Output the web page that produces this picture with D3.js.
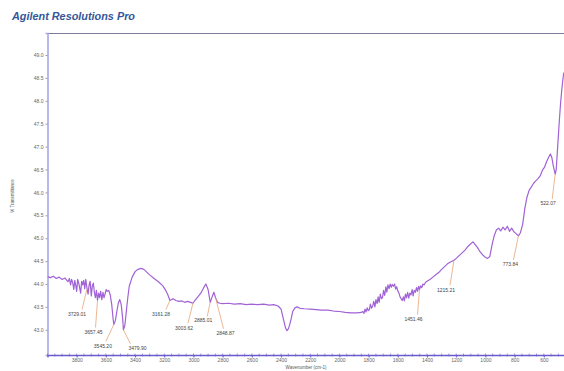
<!DOCTYPE html>
<html>
<head>
<meta charset="utf-8">
<script src="https://cdn.jsdelivr.net/npm/d3@7"></script>
<style>
  html, body { margin: 0; padding: 0; background: #fff; }
  svg { display: block; }
  text { font-family: "Liberation Sans", Arial, sans-serif; }
</style>
</head>
<body>
<svg id="chart" width="564" height="371"></svg>
<script>
// IR spectrum: wavenumber (cm-1) and % transmittance
const wavenumber = [
  4000, 3980, 3960, 3940, 3920, 3900, 3880, 3860, 3850, 3842, 3835, 3828, 3820, 3813, 3806, 3800,
  3793, 3786, 3780, 3773, 3766, 3759, 3752, 3745, 3738, 3729.01, 3722, 3715, 3708, 3700, 3693, 3686,
  3679, 3672, 3665, 3657.45, 3650, 3643, 3636, 3628, 3620, 3613, 3606, 3598, 3590, 3580, 3570, 3560,
  3550, 3545.20, 3535, 3525, 3515, 3505, 3495, 3485,
  3479.90, 3470, 3460, 3450, 3440, 3420, 3400, 3380, 3360, 3340, 3320, 3300, 3270, 3240, 3210,
  3190, 3175, 3161.28, 3140, 3120, 3100, 3080, 3060, 3040, 3020, 3003.62, 2990, 2970, 2950, 2930,
  2915, 2900, 2885.01, 2870, 2860, 2848.87, 2835, 2820, 2800, 2760, 2720, 2680, 2640, 2600, 2560,
  2520, 2480, 2450, 2420, 2400, 2385, 2370, 2360, 2350, 2340, 2330, 2320, 2305, 2290, 2270, 2240,
  2200, 2160, 2120, 2080, 2040, 2000, 1960, 1920, 1880, 1850,
  1840, 1832, 1825, 1818, 1810, 1803, 1795, 1788, 1780, 1772, 1765, 1757, 1750, 1742, 1735, 1728,
  1720, 1712, 1705, 1698, 1690, 1682, 1675, 1668, 1660, 1652, 1645, 1638, 1630, 1622, 1615, 1608,
  1600, 1592, 1585, 1578, 1570, 1562, 1555, 1548, 1540, 1533, 1525, 1518, 1510, 1502, 1495, 1488,
  1480, 1472, 1465, 1458, 1451.46, 1444, 1436, 1428, 1420, 1410,
  1400, 1380, 1360, 1340, 1320, 1300, 1280, 1260, 1240, 1215.21,
  1200, 1180, 1160, 1140, 1120, 1100, 1085, 1070, 1055, 1040, 1020, 1000, 985, 970, 955, 940, 925,
  910, 895, 880, 865, 850, 835, 820, 805, 790, 773.84, 760, 745, 730, 715, 700, 685, 670, 655, 640,
  625, 610, 595, 580, 565, 555, 545, 535, 522.07, 515, 505, 495, 485, 475, 465, 455, 445
];
const transmittance = [
  44.16, 44.14, 44.17, 44.12, 44.15, 44.10, 44.13, 44.05, 44.12, 43.98, 44.10, 44.04, 43.88, 44.08, 43.96, 43.84,
  44.10, 44.02, 43.92, 43.80, 44.06, 43.98, 44.08, 43.90, 44.10, 43.90, 43.78, 43.98, 44.06, 43.74, 43.96, 44.02,
  43.82, 43.70, 43.86, 43.64, 43.80, 43.70, 43.84, 43.66, 43.82, 43.70, 43.78, 43.88, 43.84, 43.86, 43.76, 43.55,
  43.22, 43.12, 43.20, 43.40, 43.58, 43.66, 43.55, 43.25,
  43.00, 43.10, 43.40, 43.70, 43.95, 44.15, 44.27, 44.32, 44.34, 44.32, 44.26, 44.20, 44.12, 44.05, 43.96,
  43.86, 43.76, 43.64, 43.68, 43.64, 43.62, 43.63, 43.60, 43.62, 43.60, 43.58, 43.64, 43.72, 43.80, 43.92,
  44.00, 43.88, 43.60, 43.74, 43.82, 43.70, 43.60, 43.58, 43.57, 43.58, 43.56, 43.57, 43.55, 43.56, 43.55,
  43.56, 43.54, 43.55, 43.52, 43.45, 43.25, 43.05, 42.98, 43.02, 43.12, 43.25, 43.40, 43.48, 43.50, 43.47, 43.46,
  43.45, 43.44, 43.43, 43.43, 43.41, 43.40, 43.38, 43.37, 43.37, 43.38,
  43.40, 43.36, 43.45, 43.39, 43.48, 43.42, 43.44, 43.56, 43.47, 43.52, 43.62, 43.50, 43.66, 43.57, 43.72, 43.60,
  43.78, 43.68, 43.70, 43.86, 43.75, 43.94, 43.82, 43.98, 43.90, 44.00, 43.93, 43.99, 43.95, 44.00, 43.89, 43.94,
  43.85, 43.80, 43.72, 43.68, 43.64, 43.72, 43.63, 43.78, 43.70, 43.82, 43.69, 43.80, 43.76, 43.88, 43.74, 43.86,
  43.82, 43.92, 43.84, 43.95, 43.88, 43.96, 43.92, 44.00, 43.98, 44.04,
  44.06, 44.10, 44.15, 44.20, 44.25, 44.32, 44.38, 44.44, 44.48, 44.52,
  44.56, 44.62, 44.68, 44.74, 44.82, 44.88, 44.92, 44.86, 44.80, 44.72, 44.64, 44.58, 44.56, 44.60, 44.85, 45.05, 45.18,
  45.22, 45.16, 45.24, 45.18, 45.26, 45.15, 45.22, 45.14, 45.10, 45.05, 45.12, 45.30, 45.65, 45.90, 46.05, 46.12, 46.20, 46.25, 46.30,
  46.36, 46.48, 46.55, 46.68, 46.78, 46.84, 46.76, 46.58, 46.40, 46.50, 47.00, 47.50, 47.95, 48.30, 48.58, 48.66, 48.70
];

// Peak-picked wavenumbers shown as annotations
const peakWavenumbers = [3729.01, 3657.45, 3545.20, 3479.90, 3161.28, 3003.62, 2885.01, 2848.87, 1451.46, 1215.21, 773.84, 522.07];

// Axis ticks
const xTicks = [3800, 3600, 3400, 3200, 3000, 2800, 2600, 2400, 2200, 2000, 1800, 1600, 1400, 1200, 1000, 800, 600];
const yTicks = [43.0, 43.5, 44.0, 44.5, 45.0, 45.5, 46.0, 46.5, 47.0, 47.5, 48.0, 48.5, 49.0];

// Annotation layout: label centre and leader start, offset from the peak point (px)
const labelOffsets = [[-10, 26], [-4, 32], [-11, 22], [14, 19], [-9, 14], [-9, 25], [-7, 18], [10, 36], [-6, 30], [-8, 30], [-8, 29], [-7, 30]];
const leaderOffsets = [[-5, 21], [-2, 27], [-8, 17], [7, 14], [-4, 9], [-5, 20], [-3, 14], [8, 31], [-2, 25], [-4, 25], [-5, 24], [-3, 25]];

const svg = d3.select("#chart");
const plotLeft = 47.5, plotTop = 33, plotBottom = 355;

const x = d3.scaleLinear().domain([4000, 400]).range([plotLeft, 573]);
const y = d3.scaleLinear().domain([42.45, 49.48]).range([plotBottom, plotTop]);

// Title
svg.append("text")
  .attr("x", 12).attr("y", 20)
  .attr("font-size", 11).attr("font-weight", "bold").attr("font-style", "italic")
  .attr("fill", "#34569a")
  .attr("textLength", 123).attr("lengthAdjust", "spacingAndGlyphs")
  .text("Agilent Resolutions Pro");

// Top border of the plot frame
svg.append("line")
  .attr("x1", plotLeft).attr("x2", 564).attr("y1", plotTop + 0.5).attr("y2", plotTop + 0.5)
  .attr("stroke", "#7c7c98").attr("stroke-width", 1);

// Y axis
const yAxis = d3.axisLeft(y).tickValues(yTicks).tickFormat(d3.format(".1f")).tickSize(2).tickPadding(2);
const gy = svg.append("g").attr("transform", `translate(${plotLeft},0)`).call(yAxis);
gy.select(".domain").attr("stroke", "#a9a6e6").attr("stroke-width", 1.6);
gy.selectAll(".tick line").attr("stroke", "#9a9ab8");
gy.selectAll(".tick text").attr("font-size", 5).attr("fill", "#666").attr("font-family", "Liberation Sans, Arial, sans-serif");

// X axis with dense minor ticks
const minor = d3.range(4000, 399, -50);
const gxm = svg.append("g").attr("transform", `translate(0,${plotBottom})`);
gxm.selectAll("line").data(minor).join("line")
  .attr("x1", d => x(d)).attr("x2", d => x(d)).attr("y1", -1.5).attr("y2", 1.5)
  .attr("stroke", "#8a7ad8").attr("stroke-width", 0.8);

const xAxis = d3.axisBottom(x).tickValues(xTicks).tickFormat(d3.format("d")).tickSize(2.5).tickPadding(1);
const gx = svg.append("g").attr("transform", `translate(0,${plotBottom})`).call(xAxis);
gx.select(".domain").attr("stroke", "#6a5ccc").attr("stroke-width", 1.3);
gx.selectAll(".tick line").attr("stroke", "#6a5ccc");
gx.selectAll(".tick text").attr("font-size", 5).attr("fill", "#666").attr("font-family", "Liberation Sans, Arial, sans-serif");

// Axis titles
svg.append("text")
  .attr("transform", "translate(14,196) rotate(-90)")
  .attr("text-anchor", "middle").attr("font-size", 4.5).attr("fill", "#555")
  .text("% Transmittance");
svg.append("text")
  .attr("x", 306).attr("y", 369)
  .attr("text-anchor", "middle").attr("font-size", 4.5).attr("fill", "#555")
  .text("Wavenumber (cm-1)");

// Spectrum
svg.append("clipPath").attr("id", "plot-clip")
  .append("rect").attr("x", plotLeft).attr("y", plotTop).attr("width", 564 - plotLeft).attr("height", plotBottom - plotTop);

const points = wavenumber.map((w, i) => [w, transmittance[i]]);
const line = d3.line().x(d => x(d[0])).y(d => y(d[1]));
svg.append("path")
  .datum(points)
  .attr("clip-path", "url(#plot-clip)")
  .attr("fill", "none")
  .attr("stroke", "#a062d6")
  .attr("stroke-width", 1.2)
  .attr("stroke-linejoin", "round")
  .attr("d", line);

// Peak annotations with leader lines
const interp = w => {
  const i = wavenumber.findIndex(v => v <= w);
  if (i <= 0) return transmittance[Math.max(i, 0)];
  const w0 = wavenumber[i - 1], w1 = wavenumber[i];
  const t = (w0 - w) / (w0 - w1);
  return transmittance[i - 1] + t * (transmittance[i] - transmittance[i - 1]);
};

const ann = svg.append("g");
peakWavenumbers.forEach((w, i) => {
  const px = x(w), py = y(interp(w));
  ann.append("line")
    .attr("x1", px + leaderOffsets[i][0]).attr("y1", py + leaderOffsets[i][1])
    .attr("x2", px).attr("y2", py)
    .attr("stroke", "#e6a47a").attr("stroke-width", 0.8);
  ann.append("text")
    .attr("x", px + labelOffsets[i][0]).attr("y", py + labelOffsets[i][1])
    .attr("text-anchor", "middle").attr("dominant-baseline", "middle")
    .attr("font-size", 5).attr("fill", "#444")
    .text(w.toFixed(2));
});
</script>
</body>
</html>
